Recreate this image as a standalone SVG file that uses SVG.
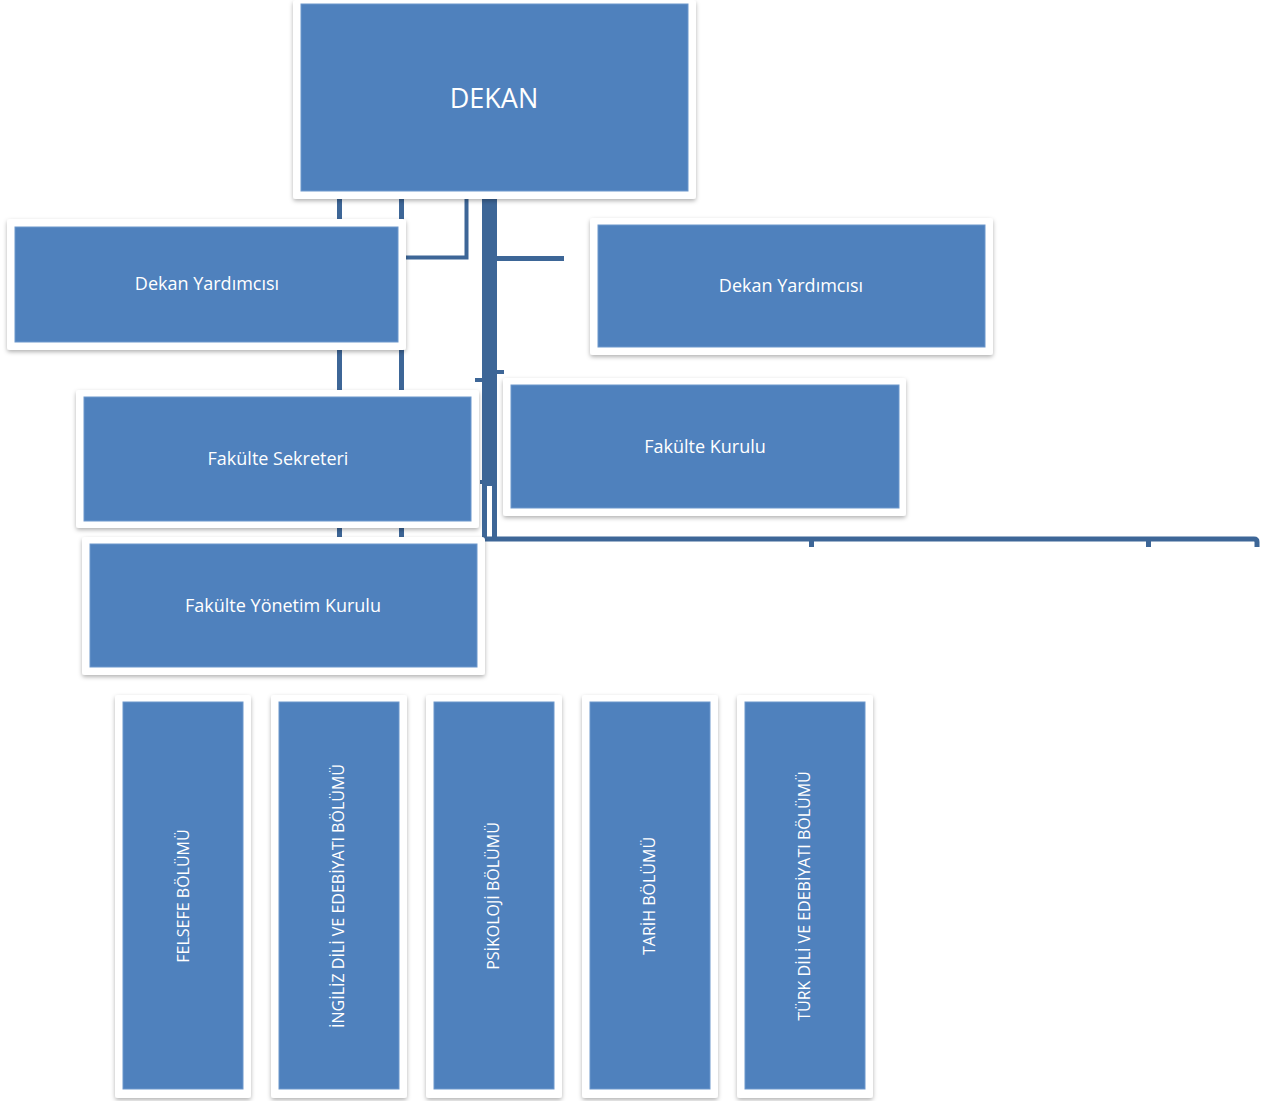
<svg xmlns="http://www.w3.org/2000/svg" width="1275" height="1101" viewBox="0 0 1275 1101">
<defs>
<filter id="sh" x="-10%" y="-10%" width="120%" height="130%">
<feDropShadow dx="0" dy="2" stdDeviation="2" flood-color="#000" flood-opacity="0.3"/>
</filter>
<style>
.frame{fill:#fff;filter:url(#sh)}
.box{fill:#4f81bd;stroke:#6d97cc;stroke-width:1}
.lbl{font-family:"Open Sans","Noto Sans",sans-serif;fill:#fff;text-anchor:middle;dominant-baseline:central}
.ln{fill:#3d6697}
</style>
</defs>
<rect width="1275" height="1101" fill="#fff"/>
<g id="connectors">
<rect class="ln" x="337" y="196" width="5" height="342"/>
<rect class="ln" x="399" y="196" width="5" height="342"/>
<path d="M466.5 196 V257.5 H400" fill="none" stroke="#3d6697" stroke-width="4"/>
<rect class="ln" x="482" y="196" width="15" height="290"/>
<rect class="ln" x="497" y="256" width="67" height="5"/>
<rect class="ln" x="496" y="370" width="8" height="4"/>
<rect class="ln" x="475" y="378" width="8" height="4"/>
<rect class="ln" x="480" y="480" width="4" height="4"/>
<rect class="ln" x="482" y="484" width="5" height="56"/>
<rect class="ln" x="492" y="484" width="5" height="56"/>
<path d="M484 539 H1254 Q1257 539 1257 542 V547" fill="none" stroke="#3d6697" stroke-width="5"/>
<rect class="ln" x="809" y="539" width="5" height="8"/>
<rect class="ln" x="1146" y="539" width="5" height="8"/>
</g>
<g id="dekan">
<rect class="frame" x="293" y="0" width="403" height="199" rx="3"/>
<rect class="box" x="301" y="4" width="387" height="187"/>
<text class="lbl" x="494" y="97" font-size="27">DEKAN</text>
</g>
<g id="dekan-yard-1">
<rect class="frame" x="7" y="219" width="399" height="131" rx="3"/>
<rect class="box" x="15" y="227" width="383" height="115"/>
<text class="lbl" x="207" y="283" font-size="18">Dekan Yardımcısı</text>
</g>
<g id="dekan-yard-2">
<rect class="frame" x="590" y="218" width="403" height="137" rx="3"/>
<rect class="box" x="598" y="225" width="387" height="122"/>
<text class="lbl" x="791" y="285" font-size="18">Dekan Yardımcısı</text>
</g>
<g id="fakulte-kurulu">
<rect class="frame" x="503" y="378" width="403" height="138" rx="3"/>
<rect class="box" x="511" y="385" width="388" height="123"/>
<text class="lbl" x="705" y="446" font-size="18">Fakülte Kurulu</text>
</g>
<g id="fakulte-sekreteri">
<rect class="frame" x="76" y="390" width="403" height="138" rx="3"/>
<rect class="box" x="84" y="397" width="387" height="124"/>
<text class="lbl" x="278" y="458" font-size="18">Fakülte Sekreteri</text>
</g>
<g id="fakulte-yonetim">
<rect class="frame" x="82" y="537" width="403" height="138" rx="3"/>
<rect class="box" x="90" y="544" width="387" height="123"/>
<text class="lbl" x="283" y="605" font-size="18">Fakülte Yönetim Kurulu</text>
</g>
<g id="felsefe">
<rect class="frame" x="115" y="695" width="136" height="403" rx="3"/>
<rect class="box" x="123" y="702" width="120" height="387"/>
<text class="lbl" font-size="16" transform="translate(183 896) rotate(-90)">FELSEFE BÖLÜMÜ</text>
</g>
<g id="ingiliz">
<rect class="frame" x="271" y="695" width="136" height="403" rx="3"/>
<rect class="box" x="279" y="702" width="120" height="387"/>
<text class="lbl" font-size="16" transform="translate(338 896) rotate(-90)">İNGİLİZ DİLİ VE EDEBİYATI BÖLÜMÜ</text>
</g>
<g id="psikoloji">
<rect class="frame" x="426" y="695" width="136" height="403" rx="3"/>
<rect class="box" x="434" y="702" width="120" height="387"/>
<text class="lbl" font-size="16" transform="translate(493 896) rotate(-90)">PSİKOLOJİ BÖLÜMÜ</text>
</g>
<g id="tarih">
<rect class="frame" x="582" y="695" width="136" height="403" rx="3"/>
<rect class="box" x="590" y="702" width="120" height="387"/>
<text class="lbl" font-size="16" transform="translate(649 896) rotate(-90)">TARİH BÖLÜMÜ</text>
</g>
<g id="turk">
<rect class="frame" x="737" y="695" width="136" height="403" rx="3"/>
<rect class="box" x="745" y="702" width="120" height="387"/>
<text class="lbl" font-size="16" transform="translate(804 896) rotate(-90)">TÜRK DİLİ VE EDEBİYATI BÖLÜMÜ</text>
</g>
</svg>
